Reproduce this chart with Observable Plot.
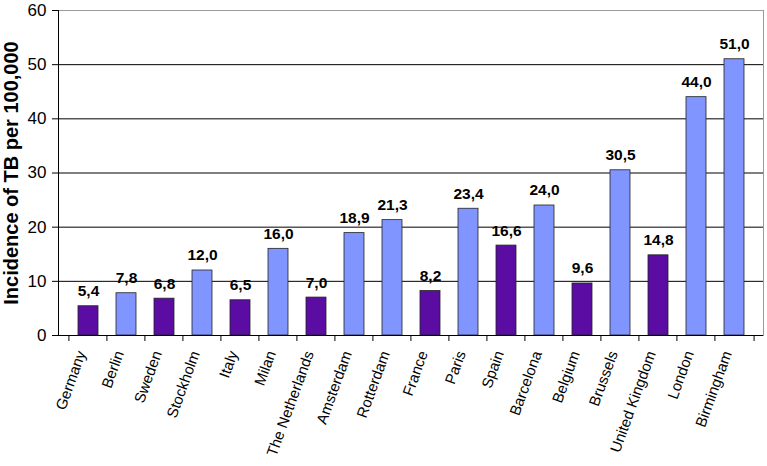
<!DOCTYPE html>
<html><head><meta charset="utf-8">
<script src="https://cdn.jsdelivr.net/npm/d3@7"></script>
<script src="https://cdn.jsdelivr.net/npm/@observablehq/plot@0.6"></script>
<style>body{margin:0;background:#fff}</style></head>
<body><div id="chart"></div>
<script>
const places = ["Germany","Berlin","Sweden","Stockholm","Italy","Milan","The Netherlands","Amsterdam","Rotterdam","France","Paris","Spain","Barcelona","Belgium","Brussels","United Kingdom","London","Birmingham"];
const values = [5.4,7.8,6.8,12.0,6.5,16.0,7.0,18.9,21.3,8.2,23.4,16.6,24.0,9.6,30.5,14.8,44.0,51.0];
const kinds = ["country","city","country","city","country","city","country","city","city","country","city","country","city","country","city","country","city","city"];
const yTicks = [0,10,20,30,40,50,60];
const yTitle = "Incidence of TB per 100,000";

const data = places.map((p,i)=>({place:p, value:values[i], kind:kinds[i]}));
const W=767, H=466, mL=58, mR=4;
const step=(W-mL-mR)/places.length;
const fmt = v => v.toFixed(1).replace(".", ",");

const chart = Plot.plot({
  width:W, height:H, marginLeft:mL, marginRight:mR, marginTop:10, marginBottom:131,
  style:{fontFamily:"'Liberation Sans', Arial, sans-serif", background:"#fff", color:"#000"},
  x:{domain:places, padding:0.48, label:null},
  y:{domain:[0,60], label:null},
  color:{domain:["country","city"], range:["#5A0CA3","#8095FF"]},
  marks:[
    Plot.ruleY(yTicks.filter(t=>t>0 && t<60), {stroke:"#000", strokeWidth:1}),
    Plot.ruleY([60], {stroke:"#9a9a9a"}),
    Plot.frame({anchor:"right", stroke:"#9a9a9a"}),
    Plot.barY(data, {x:"place", y:"value", fill:"kind", stroke:"#222", strokeWidth:0.8}),
    Plot.text(data, {x:"place", y:"value", text:d=>fmt(d.value), dy:-15, fontWeight:"bold", fontSize:15.5}),
    Plot.ruleY([0], {stroke:"#000"}),
    Plot.frame({anchor:"left", stroke:"#000"}),
    Plot.axisY({ticks:yTicks, tickSize:6, tickPadding:6, fontSize:17, label:null}),
    Plot.axisX({tickSize:6, dx:-step/2, tickFormat:()=>"", label:null}),
    Plot.axisX({ticks:[places[places.length-1]], tickSize:6, dx:step/2, tickFormat:()=>"", label:null}),
    Plot.axisX({tickSize:0, tickPadding:16, tickRotate:-70, fontSize:15, dx:-7, label:null}),
    Plot.text([yTitle], {frameAnchor:"left", textAnchor:"middle", dx:-47, rotate:-90, fontWeight:"bold", fontSize:20})
  ]
});
document.getElementById("chart").append(chart);
</script>
</body></html>
